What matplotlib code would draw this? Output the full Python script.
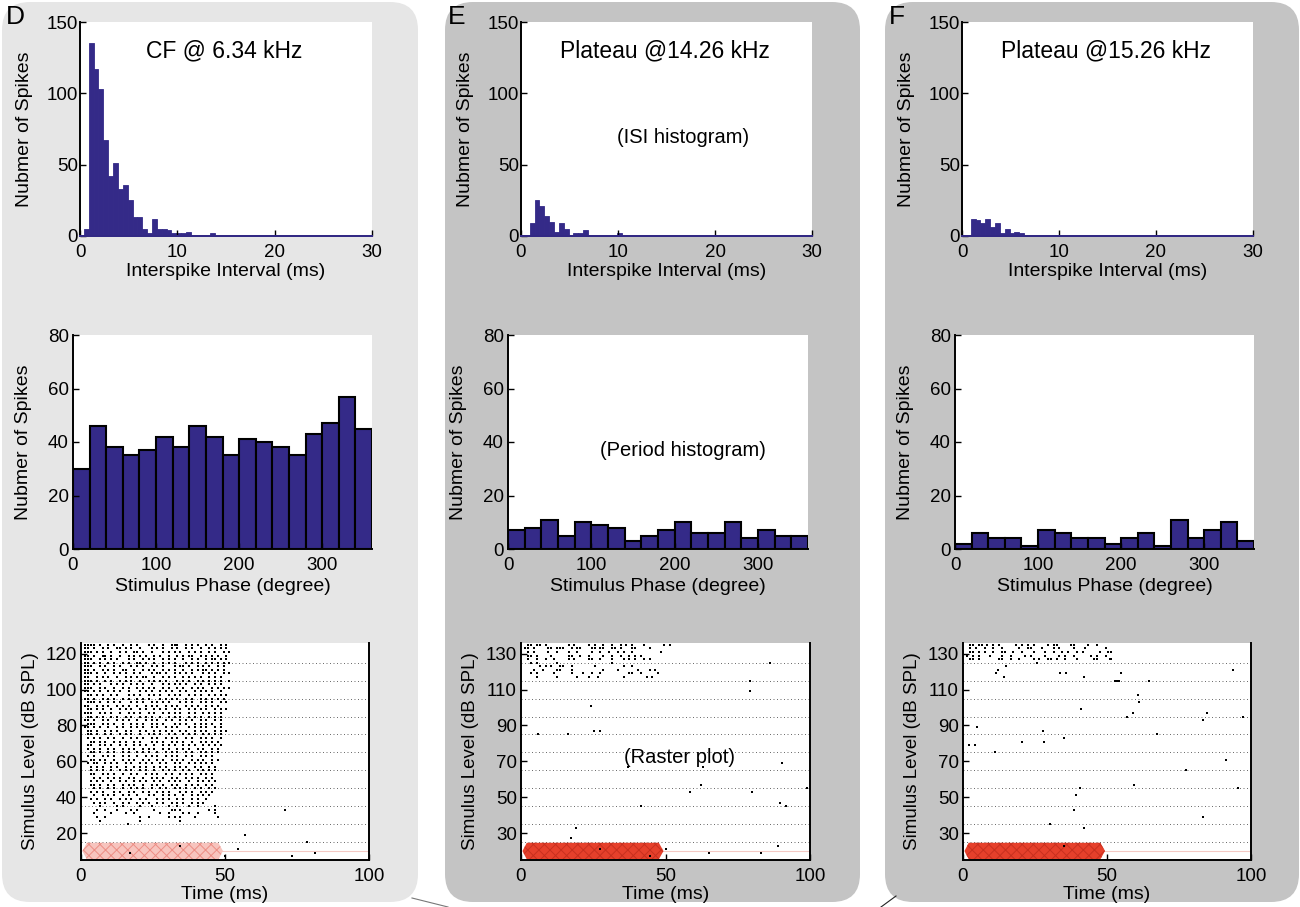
import matplotlib.pyplot as plt
from matplotlib.patches import FancyBboxPatch, Polygon
from matplotlib.lines import Line2D
import numpy as np

plt.rcParams['font.family'] = ['Liberation Sans', 'DejaVu Sans']
plt.rcParams['hatch.linewidth'] = 0.7

W, H = 1300, 907
BAR = '#342a88'

# ISI histograms: counts per 0.5 ms bin, first bin starts at 0.4 ms
isi_d = [5, 135, 117, 103, 67, 42, 51, 33, 36, 25, 13, 13, 5, 2, 12, 5, 5, 4, 2, 2,
         2, 3, 1, 1, 1, 0, 2, 0, 0, 0, 0, 0, 0, 0, 0, 1, 0, 0, 0, 0,
         0, 0, 0, 0, 0, 0, 0, 0, 0, 0, 0, 0, 0, 0, 0, 0, 0, 0, 0, 0]
isi_e = [0, 9, 25, 21, 14, 10, 3, 9, 5, 1, 2, 2, 4, 1, 1, 1, 1, 0, 0, 2,
         1, 0, 1, 0, 0, 1, 0, 0, 0, 0, 1, 0, 0, 0, 0, 0, 0, 0, 0, 0,
         0, 0, 0, 0, 0, 0, 0, 0, 0, 0, 0, 0, 0, 0, 0, 0, 0, 0, 0, 0]
isi_f = [0, 12, 11, 9, 12, 6, 9, 2, 5, 2, 3, 2, 1, 0, 0, 0, 1, 0, 0, 0,
         0, 0, 0, 0, 0, 0, 0, 0, 0, 0, 0, 0, 0, 0, 0, 0, 0, 0, 0, 0,
         0, 0, 1, 0, 0, 0, 0, 0, 0, 0, 0, 0, 0, 0, 1, 0, 0, 0, 0, 0]

# period histograms: 18 bins of 20 degrees
phase_d = [30, 46, 38, 35, 37, 42, 38, 46, 42, 35, 41, 40, 38, 35, 43, 47, 57, 45]
phase_e = [7, 8, 11, 5, 10, 9, 8, 3, 5, 7, 10, 6, 6, 10, 4, 7, 5, 5]
phase_f = [2, 6, 4, 4, 1, 7, 6, 4, 4, 2, 4, 6, 1, 11, 4, 7, 10, 3]

# raster: 5 trials per level, one char per ms, 'x' = spike
trial_offsets = [5, 3, 1, -1, -3]

raster_d_levels = [120, 110, 100, 90, 80, 70, 60, 50, 40, 30]
raster_d_rows = [
    "-xxxx-x--x-x--x--x-x---x-x--x--xxx--x-x-x--x-x--x-x",
    "-xx-x--x-x--xx-x-x--x---x-x-x--x-x--x-x--x--x-x-x-x",
    "-xxx-x-x--x--x-x--xx-x--x---x-x-x-x--x-x-x--x-x--x-x",
    "-xx-x--xx-x--x--x-x-x-x--x-x--x--x-x-xx--x-x-x-x--x",
    "-xxx--x-x-x-x---x-x--x-x-x--x-x-x--x--x-x--x-xx-x-x",
    "-xx-x-x--x-x--x-x--xx-x--x--x-x-x---x-x-x--x-x-x-x-x",
    "-xxx--x-x--x-x---x-x-x--x-x-x---x-xx-x--x-x-x--x-x",
    "-xx-x--x-x-x--xx--x--x-x-x--x-x-x--x--x-x-xx-x-x-x",
    "-xxx-x--x--x-x-x--x-x---x-xx-x--x-x-x-x---x-x-x--x-x",
    "-xx--x-x-x--x--x-x-x-xx--x--x-x-x--x-x-x-x--x-x-x",
    "-xxx-x--x-x--x-x-x--x--x-x-x-x---x-x-x--x-x-x-x-x--x",
    "-xx-x-x---x-x-x--x-x-x--x---x-x-x-x-x--x-x--x-x-x",
    "-xxx--x-x--x--x-x--x-x-x-x--x-x--x-x--x-x-x--x-x-x-x",
    "-xx-x-x--x-x-x--x---x-x-x--x-x-x--x-x--x-x-x-x--x",
    "--xx-x-x--x-x---x-x-x--x-x-x--x-x-x--x-x-x--x-x-x-x",
    "-xx-x--x-x-x--x-x--x-x-x---x-x-x-x--x-x--x-x-x-x-x",
    "--xxx-x--x-x-x---x-x-x--x-x-x-x---x-x-x--x-x-x--x-x",
    "-xx--x-x-x--x-x-x--x--x-x-x--x-x-x--x-x-x--x-x-x",
    "--xx-x-x--x--x-x-x--x-x--x-x-x--x-x--x-x-x-x--x-x-x",
    "-xxx--x-x-x--x--x-x-x--x-x--x-x-x-x--x-x--x-x-x-x",
    "--xx-x-x--x-x--x-x--x-x-x--x--x-x-x--x-x-x--x-x-x",
    "-xx-x--x-x--x-x-x--x--x-x-x--x-x--x-x-x--x-x--x-x",
    "--xxx--x-x-x--x--x-x-x--x-x-x---x-x-x--x-x-x-x--x",
    "-xx-x-x--x--x-x--x-x-x--x-x--x-x-x---x-x-x-x--x-x",
    "--xx-x--x-x-x--x-x--x-x--x-x-x-x--x-x--x-x-x--x-x-x",
    "--xx-x--x-x--x-x-x--x--x-x-x--x-x--x-x-x--x-x-x-x",
    "--x-x-x--x-x--x--x-x-x--x-x--x-x-x--x-x--x-x-x--x",
    "---xx-x-x--x-x-x--x-x---x-x-x--x-x-x--x--x-x-x-x",
    "--xx--x-x-x--x-x--x-x-x--x--x-x-x--x-x-x--x-x-x-x",
    "--x-x-x--x-x--x-x-x--x-x-x--x-x--x-x-x--x-x--x-x",
    "---xx-x--x-x--x-x--x-x-x--x--x-x-x--x-x--x-x-x-x",
    "--x-x--x-x-x--x-x--x--x-x-x--x-x-x--x-x--x-x-x",
    "---xx-x-x--x--x-x-x--x-x--x-x--x-x-x--x-x-x--x-x",
    "--x-xx--x-x-x--x-x--x-x-x--x-x--x-x--x-x-x-x-x",
    "---x-x-x--x-x--x--x-x-x--x-x-x--x-x-x--x-x--x-x",
    "---x-x-x--x--x-x-x--x-x--x--x-x-x--x-x--x-x-x-x",
    "---xx--x-x-x--x--x-x--x-x-x--x-x--x-x-x--x-x-x",
    "----x-x--x-x-x--x-x--x--x-x-x--x-x--x-x-x--x-x",
    "---x-x-x--x--x-x--x-x-x--x-x--x-x-x--x--x-x-x-x",
    "---xx-x--x-x--x-x-x--x--x-x-x--x-x--x-x-x--x-x",
    "----x-x--x-x--x--x-x-x--x--x-x--x-x-x--x-x--x-x",
    "---x-x-x---x-x--x-x--x-x--x-x-x---x-x-x--x-x-x",
    "----x--x-x-x--x-x--x---x-x--x-x-x--x--x-x-x-x",
    "---x-x--x-x--x-x-x--x-x---x-x-x--x-x--x-x--x",
    "----x-x-x--x--x-x--x-x-x--x-x--x-x-x--x-x-x",
    "------x-----x-x-----x---x-----x--x---x--x-----x",
    "-----x--x---x----x-x-----x-----xx-x---------x-x",
    "----x-----x----x--x--------x--x----x-x--x-----x",
    "-----x--x-----------x--x------x-x-x----x-------x",
    "------x-------------x-------------x-------------",
]
raster_d_extra_t = [70.8, 56.9, 78.6, 54.4, 73.4, 81.3, 50.0, 17.0, 34.4, 16.4]
raster_d_extra_lvl = [33, 19, 15, 11, 7, 9, 7, 9, 13, 25]

raster_e_levels = [130, 120]
raster_e_rows = [
    "--xx-xx-x-------x-x----x-x--x--x--x-x-x---x------x-x",
    "-xx-x----xx-xxx--x-xx---xx-xx--xx-x---xx----x",
    "--x-x----x--x---x--x----x--x--x--x-x--x---------x",
    "--xx-x----x-----xx--x--x----x--x--x--x-x-x",
    "--x--x--x--x----x-x----xx--x---x---x-x-x--x-x",
    "---x-x------x------------------x",
    "------x-x-x--xx--x-------x---------x--x",
    "----x--x----xx---x----------x----x------x---x-x",
    "---x-x-----x-----x---x--x--x---------xx--x-----x",
    "-----x------x------x---x--x--------x-------x-x",
]
raster_e_extra_t = [86.1, 79.4, 79.4, 24.3, 6.0, 16.4, 25.4, 27.5, 90.2, 63.0, 37.0,
                    62.4, 58.4, 79.8, 98.8, 41.4, 89.6, 91.6, 19.1, 17.3, 89.0, 65.1,
                    82.9, 50.0, 44.5, 27.5]
raster_e_extra_lvl = [125, 115, 109, 101, 85, 85, 87, 87, 69, 67, 67,
                      57, 53, 53, 55, 45, 47, 45, 33, 27, 23, 19,
                      19, 21, 17, 21]

raster_f_levels = [130]
raster_f_rows = [
    "--xx-xx-x-x-x-----x-x-x-x----x-xx----xx----x--x",
    "--x-x--x--x--x-----x--xx---x---x-x----x---x------x",
    "--xx-x-x--x--xx--x--x---x---x--x--x-x--x-x-----x--xx",
    "-x-x-x---x---x--x----x-x----x----x-x--x-----x-x--x",
    "--xx-x------xx--x--x----x-x--xx-x--x---x-----xx----x",
]
raster_f_extra_t = [25.7, 51.0, 11.6, 12.2, 14.8, 14.1, 33.6, 35.9, 41.9, 52.7, 53.5,
                    54.2, 54.7, 64.7, 93.9, 60.8, 61.2, 40.8, 59.1, 56.8, 83.2, 84.6,
                    97.1, 5.0, 2.0, 4.1, 11.0, 20.6, 27.8, 28.0, 35.0, 67.4, 91.2,
                    77.6, 59.4, 40.6, 39.4, 38.7, 95.6, 83.2, 30.1, 41.9, 35.0]
raster_f_extra_lvl = [125, 127, 119, 121, 123, 117, 119, 119, 117, 115, 115,
                      115, 119, 115, 121, 107, 103, 99, 97, 95, 93, 97,
                      95, 89, 79, 79, 75, 81, 87, 81, 83, 85, 71,
                      65, 57, 55, 51, 43, 55, 39, 35, 33, 23]

fig = plt.figure(figsize=(13, 9.07), dpi=100)

# background panels
bg = fig.add_axes([0, 0, 1, 1], zorder=-10)
bg.set_xlim(0, W)
bg.set_ylim(H, 0)
bg.axis('off')
for x0, x1, col in [(2, 418, '#e6e6e6'), (445, 860, '#c4c4c4'), (885, 1299, '#c4c4c4')]:
    bg.add_patch(FancyBboxPatch((x0, 2), x1 - x0, 900,
                                boxstyle='round,pad=0,rounding_size=28',
                                facecolor=col, edgecolor='none'))
bg.add_line(Line2D([412, 448], [898, 907], color='#777777', lw=0.8))
bg.add_line(Line2D([881, 896], [907, 896], color='#222222', lw=0.8))
for x, s in [(15, 'D'), (457, 'E'), (897, 'F')]:
    bg.text(x, 17, s, fontsize=19, ha='center', va='center')


def add_ax(l, t, r, b):
    return fig.add_axes([l / W, 1 - b / H, (r - l) / W, (b - t) / H])


def style(ax, right=False):
    ax.spines['top'].set_visible(False)
    ax.spines['right'].set_visible(right)
    for s in ['left', 'bottom', 'right']:
        ax.spines[s].set_linewidth(1.4)
    ax.tick_params(direction='in', length=4, width=1, labelsize=13.5, pad=3)
    ax.tick_params(axis='x', pad=5.5)
    ax.set_facecolor('white')


def isi_panel(ax, counts, title):
    edges = 0.4 + 0.5 * np.arange(len(counts))
    ax.bar(edges, counts, width=0.5, align='edge', color=BAR, edgecolor=BAR, linewidth=0.6)
    ax.plot([0, 30], [0, 0], color=BAR, lw=1.4, clip_on=False, zorder=3)
    ax.set_xlim(0, 30)
    ax.set_ylim(0, 150)
    ax.set_xticks([0, 10, 20, 30])
    ax.set_yticks([0, 50, 100, 150])
    style(ax)
    ax.tick_params(axis='y', pad=1.5)
    ax.text(14.8, 130, title, fontsize=16.5, ha='center', va='center')
    ax.set_xlabel('Interspike Interval (ms)', fontsize=14)
    ax.set_ylabel('Nubmer of Spikes', fontsize=14)
    ax.xaxis.set_label_coords(0.5, -0.168)
    ax.yaxis.set_label_coords(-0.19, 0.5)
    ax.xaxis.label.set_va('center')
    ax.yaxis.label.set_va('center')


def phase_panel(ax, counts):
    ax.bar(np.arange(len(counts)) * 20, counts, width=20, align='edge',
           color=BAR, edgecolor='black', linewidth=1.5)
    ax.set_xlim(0, 360)
    ax.set_ylim(0, 80)
    ax.set_xticks([0, 100, 200, 300])
    ax.set_yticks([0, 20, 40, 60, 80])
    style(ax)
    ax.set_xlabel('Stimulus Phase (degree)', fontsize=14)
    ax.set_ylabel('Nubmer of Spikes', fontsize=14)
    ax.xaxis.set_label_coords(0.5, -0.176)
    ax.yaxis.set_label_coords(-0.165, 0.5)
    ax.xaxis.label.set_va('center')
    ax.yaxis.label.set_va('center')


def decode(levels, rows):
    t, y = [], []
    for i, row in enumerate(rows):
        lvl = levels[i // 5] + trial_offsets[i % 5]
        for ms, ch in enumerate(row):
            if ch == 'x':
                t.append(ms + 0.5)
                y.append(lvl)
    return t, y


def raster_panel(ax, levels, rows, extra_t, extra_lvl, ylim, yticks, stim_mid,
                 face, hatch_col):
    t, y = decode(levels, rows)
    t += extra_t
    y += extra_lvl
    lo = ylim[0] + 10
    for g in range(lo, ylim[1], 10):
        ax.axhline(g, color='#666666', lw=0.7, ls=(0, (1, 2.6)), zorder=1)
    # tone burst marker
    top, bot = stim_mid + 4.6, stim_mid - 4.6
    ax.plot([49, 100], [stim_mid, stim_mid], color='#f4c9c4', lw=0.8, zorder=1)
    ax.add_patch(Polygon([(0.5, stim_mid), (2, top), (47.7, top), (49.3, stim_mid),
                          (47.7, bot), (2, bot)], closed=True, facecolor=face,
                         edgecolor=hatch_col, hatch='xxx', lw=0, zorder=2))
    ax.plot(t, y, ls='none', marker='s', ms=1.5, mew=0, color='black', zorder=3)
    ax.set_xlim(0, 100)
    ax.set_ylim(ylim[0], ylim[1] + 1)
    ax.set_xticks([0, 50, 100])
    ax.set_yticks(yticks)
    style(ax, right=True)
    ax.set_xlabel('Time (ms)', fontsize=14)
    ax.set_ylabel('Simulus Level (dB SPL)', fontsize=13.5)
    ax.xaxis.set_label_coords(0.5, -0.157)
    ax.yaxis.set_label_coords(-0.174, 0.5)
    ax.xaxis.label.set_va('center')
    ax.yaxis.label.set_va('center')


# row 1: ISI histograms
isi_panel(add_ax(80, 22, 372, 236), isi_d, 'CF @ 6.34 kHz')
ax_e1 = add_ax(521, 22, 812, 236)
isi_panel(ax_e1, isi_e, 'Plateau @14.26 kHz')
ax_e1.text(16.7, 69, '(ISI histogram)', fontsize=14.5, ha='center', va='center')
isi_panel(add_ax(962, 22, 1253, 236), isi_f, 'Plateau @15.26 kHz')

# row 2: period histograms
phase_panel(add_ax(73, 335, 372, 549), phase_d)
ax_e2 = add_ax(508, 335, 808, 549)
phase_panel(ax_e2, phase_e)
ax_e2.text(210, 37, '(Period histogram)', fontsize=14.5, ha='center', va='center')
phase_panel(add_ax(955, 335, 1254, 549), phase_f)

# row 3: raster plots
raster_panel(add_ax(81, 643, 369, 860), raster_d_levels, raster_d_rows,
             raster_d_extra_t, raster_d_extra_lvl, (5, 125),
             [20, 40, 60, 80, 100, 120], 10, '#f7c4be', '#ec8d84')
ax_e3 = add_ax(521, 643, 810, 860)
raster_panel(ax_e3, raster_e_levels, raster_e_rows, raster_e_extra_t,
             raster_e_extra_lvl, (15, 135), [30, 50, 70, 90, 110, 130], 20,
             '#e6402b', '#c8301f')
ax_e3.text(55, 72, '(Raster plot)', fontsize=14.5, ha='center', va='center', zorder=4)
raster_panel(add_ax(963, 643, 1251, 860), raster_f_levels, raster_f_rows,
             raster_f_extra_t, raster_f_extra_lvl, (15, 135),
             [30, 50, 70, 90, 110, 130], 20, '#e6402b', '#c8301f')

fig.savefig('out.png', dpi=100)
